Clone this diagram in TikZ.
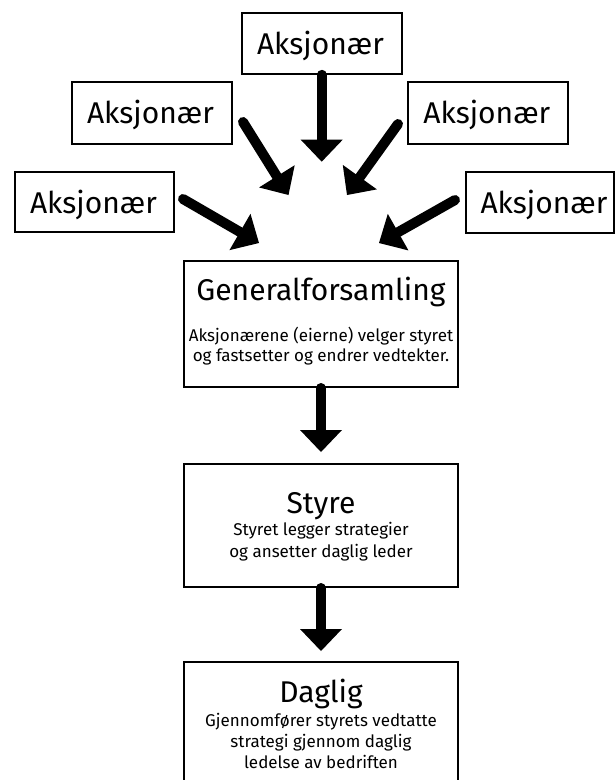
\documentclass[tikz,border=0pt]{standalone}
\usepackage{fontspec}
\setmainfont{Fira Sans}
\usetikzlibrary{arrows.meta}
\begin{document}
\begin{tikzpicture}[x=1pt,y=-1pt,
  box/.style={draw=black,line width=2pt,inner sep=0pt},
  title/.style={anchor=base,inner sep=0pt,font=\fontsize{30}{36}\selectfont},
  sub/.style={anchor=base,inner sep=0pt,font=\fontsize{17}{21}\selectfont},
  bigarrow/.style={line width=10pt,line cap=round,-{Triangle[width=42pt,length=22pt,line width=0pt]}}]
\useasboundingbox (0,0) rectangle (615,780);
% shareholder boxes
\node[box,minimum width=160pt,minimum height=61pt] (a1) at (321.7,43.3) {};
\node[title] (a1t) at (320.5,54) {Aksjonær};
\node[box,minimum width=160pt,minimum height=62pt] (a2) at (151.7,112.9) {};
\node[title] (a2t) at (150.5,123.5) {Aksjonær};
\node[box,minimum width=160pt,minimum height=62pt] (a3) at (488,112.9) {};
\node[title] (a3t) at (486.8,123.5) {Aksjonær};
\node[box,minimum width=159pt,minimum height=60pt] (a4) at (94.5,202) {};
\node[title] (a4t) at (93.5,213) {Aksjonær};
\node[box,minimum width=148pt,minimum height=61pt] (a5) at (540,202.5) {};
\node[title] (a5t) at (544,213) {Aksjonær};
% main boxes
\node[box,minimum width=274pt,minimum height=126pt] (g) at (321,324) {};
\node[title] (gt) at (321,300) {Generalforsamling};
\node[sub] (gs1) at (321,341) {Aksjonærene (eierne) velger styret};
\node[sub] (gs2) at (321,361) {og fastsetter og endrer vedtekter.};
\node[box,minimum width=274pt,minimum height=123pt] (s) at (321,525.5) {};
\node[title] (st) at (321,513) {Styre};
\node[sub] (ss1) at (321,535) {Styret legger strategier};
\node[sub] (ss2) at (321,557) {og ansetter daglig leder};
\node[box,minimum width=274pt,minimum height=130pt] (d) at (321,727) {};
\node[title] (dt) at (321,702) {Daglig};
\node[sub] (ds1) at (321,726) {Gjennomfører styrets vedtatte};
\node[sub] (ds2) at (321,747) {strategi gjennom daglig};
\node[sub] (ds3) at (321,768) {ledelse av bedriften};
% arrow coordinates
\coordinate (e1) at (321.7,161.7);
\coordinate (s2) at (243,122);
\coordinate (e2) at (288.5,195);
\coordinate (s3) at (398,124);
\coordinate (e3) at (347,195);
\coordinate (s4) at (183,199);
\coordinate (e4) at (259,243);
\coordinate (s5) at (455,200);
\coordinate (e5) at (379,243);
\coordinate (eg) at (321,452);
\coordinate (es) at (321,651);
\draw[bigarrow] (a1.south) -- (e1);
\draw[bigarrow] (s2) -- (e2);
\draw[bigarrow] (s3) -- (e3);
\draw[bigarrow] (s4) -- (e4);
\draw[bigarrow] (s5) -- (e5);
\draw[bigarrow] (g.south) -- (eg);
\draw[bigarrow] (s.south) -- (es);
\end{tikzpicture}
\end{document}
